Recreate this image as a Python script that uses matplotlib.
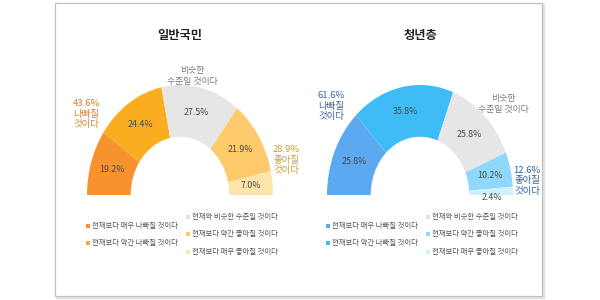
import numpy as np
import matplotlib
matplotlib.use("Agg")
import matplotlib.pyplot as plt
from matplotlib.patches import Rectangle

plt.rcParams['font.family'] = ['Noto Sans CJK KR', 'DejaVu Sans']

titles = ["일반국민", "청년층"]
categories = ["현재보다 매우 나빠질 것이다", "현재보다 약간 나빠질 것이다",
              "현재와 비슷한 수준일 것이다", "현재보다 약간 좋아질 것이다",
              "현재보다 매우 좋아질 것이다"]
general_values = [19.2, 24.4, 27.5, 21.9, 7.0]
youth_values = [25.8, 35.8, 25.8, 10.2, 2.4]
general_worse = 43.6
general_better = 28.9
youth_worse = 61.6
youth_better = 12.6

general_colors = ["#F7922F", "#FAAE1F", "#E6E6E6", "#FDCB6C", "#FCE5AA"]
youth_colors = ["#5DA9F1", "#3DBCF6", "#E6E6E6", "#8FD7FB", "#CFF0FD"]

fig = plt.figure(figsize=(6, 3), dpi=100)
bg = fig.add_axes([0, 0, 1, 1])
bg.set_xlim(0, 600)
bg.set_ylim(300, 0)
bg.axis('off')

# frame with soft shadow
bg.add_patch(Rectangle((56.5, 4.5), 487, 293, facecolor='none', edgecolor='#E2E2E2', lw=1.6, zorder=0))
bg.add_patch(Rectangle((55, 3), 487, 293, facecolor='white', edgecolor='#C0C0C0', lw=0.9, zorder=1))

W, H = 600, 300
specs = [
    dict(cx=180, values=general_values, colors=general_colors, title=titles[0],
         worse=general_worse, better=general_better,
         worse_col="#D98229", better_col="#C4A030",
         worse_xy=(86, 114), better_xy=(286, 160), same_xy=(192, 76),
         leg_left=88, leg_right=188),
    dict(cx=420, values=youth_values, colors=youth_colors, title=titles[1],
         worse=youth_worse, better=youth_better,
         worse_col="#3F6496", better_col="#2F63A6",
         worse_xy=(331, 106), better_xy=(527, 181), same_xy=(503, 104),
         leg_left=328, leg_right=428),
]

cy = 195
rx, ry = 93, 110
for s in specs:
    cx = s['cx']
    ax = fig.add_axes([(cx - rx) / W, 1 - cy / H, 2 * rx / W, ry / H], zorder=3)
    vals = list(s['values'])
    total = sum(vals)
    wedges, _ = ax.pie(vals + [total], colors=s['colors'] + ['none'], startangle=180,
                       counterclock=False, radius=1.0,
                       wedgeprops=dict(width=0.47, edgecolor='none'))
    ax.set_aspect('auto')
    ax.set_xlim(-1, 1)
    ax.set_ylim(0, 1)
    ax.axis('off')
    # segment labels
    cum = np.cumsum([0] + vals)
    for i, v in enumerate(vals):
        mid = np.deg2rad(180 - (cum[i] + v / 2) / total * 180)
        r = 0.77
        y = r * np.sin(mid)
        if v < 3:
            y -= 0.05
        ax.text(r * np.cos(mid), y, f"{v:.1f}%", ha='center', va='center',
                fontsize=6.4, color='#4A4A4A', clip_on=False)
    # title
    bg.text(cx, 35, s['title'], ha='center', va='center', fontsize=8.8,
            fontweight='bold', color='#222222', zorder=4)
    # side labels
    bg.text(*s['worse_xy'], f"{s['worse']:.1f}%\n나빠질\n것이다", ha='center', va='center',
            fontsize=6.8, color=s['worse_col'], linespacing=1.2, zorder=4)
    bg.text(*s['better_xy'], f"{s['better']:.1f}%\n좋아질\n것이다", ha='center', va='center',
            fontsize=6.8, color=s['better_col'], linespacing=1.2, zorder=4)
    bg.text(*s['same_xy'], "비슷한\n수준일 것이다", ha='center', va='center',
            fontsize=6.4, color='#7A7A7A', linespacing=1.25, zorder=4)
    # legend
    positions = [(s['leg_left'], 226), (s['leg_left'], 243),
                 (s['leg_right'], 217), (s['leg_right'], 234), (s['leg_right'], 252)]
    for (lx, ly), cat, col in zip(positions, categories, s['colors']):
        mcol = col if col != "#E6E6E6" else "#E0E0E0"
        bg.plot([lx], [ly], marker='s', markersize=2.6, color=mcol, mew=0, zorder=4)
        bg.text(lx + 3.5, ly, cat, ha='left', va='center', fontsize=5.3,
                color='#555555', zorder=4)

fig.savefig("out.png", dpi=100)
